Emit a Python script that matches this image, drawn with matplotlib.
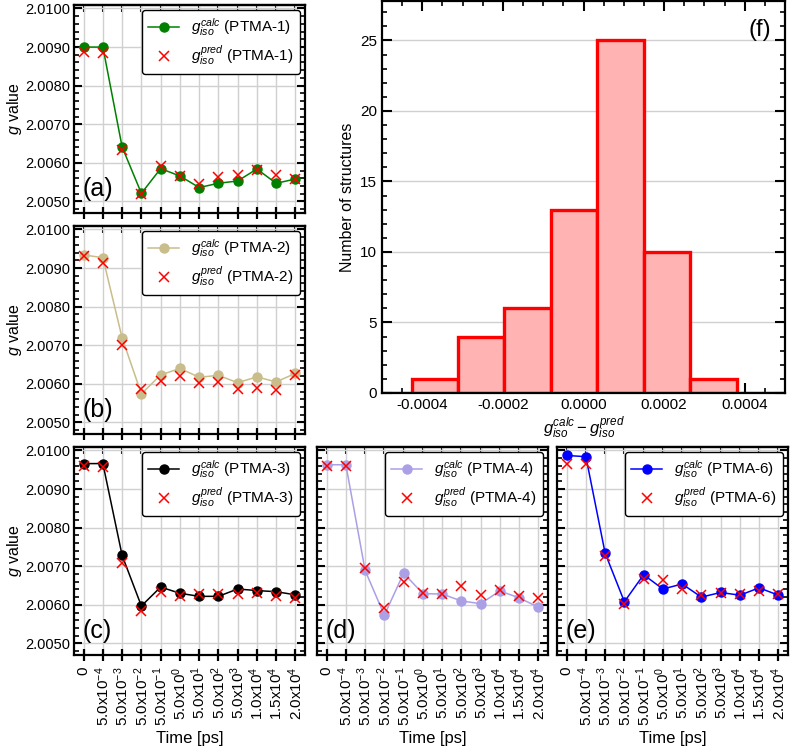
import matplotlib
matplotlib.use("Agg")
import matplotlib.pyplot as plt
from matplotlib.ticker import MultipleLocator, FormatStrFormatter
import numpy as np

plt.rcParams['font.family'] = ['Liberation Sans', 'DejaVu Sans']
plt.rcParams['mathtext.fontset'] = 'custom'
plt.rcParams['mathtext.rm'] = 'Liberation Sans'
plt.rcParams['mathtext.it'] = 'Liberation Sans:italic'
plt.rcParams['mathtext.bf'] = 'Liberation Sans:bold'

# ---------------- data ----------------
time_labels = ["0", r"5.0x10$^{-4}$", r"5.0x10$^{-3}$", r"5.0x10$^{-2}$", r"5.0x10$^{-1}$",
               r"5.0x10$^{0}$", r"5.0x10$^{1}$", r"5.0x10$^{2}$", r"5.0x10$^{3}$",
               r"1.0x10$^{4}$", r"1.5x10$^{4}$", r"2.0x10$^{4}$"]

calc_ptma1 = [2.00900, 2.00900, 2.00641, 2.00521, 2.00585, 2.00566, 2.00536, 2.00547, 2.00553, 2.00584, 2.00547, 2.00558]
pred_ptma1 = [2.00888, 2.00885, 2.00632, 2.00519, 2.00591, 2.00566, 2.00545, 2.00562, 2.00568, 2.00581, 2.00568, 2.00558]

calc_ptma2 = [2.00934, 2.00927, 2.00719, 2.00574, 2.00623, 2.00640, 2.00617, 2.00622, 2.00603, 2.00618, 2.00605, 2.00627]
pred_ptma2 = [2.00930, 2.00913, 2.00700, 2.00587, 2.00607, 2.00620, 2.00603, 2.00604, 2.00587, 2.00590, 2.00583, 2.00622]

calc_ptma3 = [2.00966, 2.00966, 2.00728, 2.00597, 2.00646, 2.00630, 2.00622, 2.00622, 2.00641, 2.00637, 2.00634, 2.00626]
pred_ptma3 = [2.00959, 2.00956, 2.00709, 2.00585, 2.00633, 2.00623, 2.00628, 2.00628, 2.00628, 2.00630, 2.00622, 2.00617]

calc_ptma4 = [2.00963, 2.00963, 2.00689, 2.00573, 2.00682, 2.00629, 2.00628, 2.00610, 2.00603, 2.00636, 2.00618, 2.00594]
pred_ptma4 = [2.00959, 2.00959, 2.00696, 2.00592, 2.00659, 2.00631, 2.00629, 2.00648, 2.00625, 2.00638, 2.00622, 2.00619]

calc_ptma6 = [2.00987, 2.00984, 2.00734, 2.00608, 2.00678, 2.00641, 2.00654, 2.00620, 2.00632, 2.00625, 2.00644, 2.00625]
pred_ptma6 = [2.00965, 2.00965, 2.00727, 2.00603, 2.00666, 2.00664, 2.00642, 2.00625, 2.00631, 2.00628, 2.00635, 2.00627]

hist_edges = [-0.000541, -0.0004259, -0.0003108, -0.0001965, -0.0000814, 0.0000337,
              0.0001496, 0.0002647, 0.0003798, 0.000495]
hist_counts = [0, 1, 4, 6, 13, 25, 10, 1, 0]

# ---------------- layout ----------------
W, H = 792, 751
fig = plt.figure(figsize=(W / 100, H / 100), dpi=100)


def ax_px(l, t, r, b):
    return fig.add_axes([l / W, 1 - b / H, (r - l) / W, (b - t) / H])


panels = [
    (ax_px(74, 5, 305, 213), calc_ptma1, pred_ptma1, '#008000', 'PTMA-1', '(a)', True, False),
    (ax_px(74, 226, 305, 434), calc_ptma2, pred_ptma2, '#c9bd8b', 'PTMA-2', '(b)', True, False),
    (ax_px(74, 447, 305, 655), calc_ptma3, pred_ptma3, '#000000', 'PTMA-3', '(c)', True, True),
    (ax_px(317, 447, 548, 655), calc_ptma4, pred_ptma4, '#ab9fe6', 'PTMA-4', '(d)', False, True),
    (ax_px(557, 447, 788, 655), calc_ptma6, pred_ptma6, '#0000ff', 'PTMA-6', '(e)', False, True),
]

x = np.arange(len(time_labels))
for ax, calc, pred, col, name, tag, ylab, xlab in panels:
    ax.plot(x, calc, '-o', color=col, lw=1.1, ms=6.5,
            label=r'$g_{iso}^{calc}$ (' + name + ')', zorder=3)
    ax.plot(x, pred, 'x', color='red', ms=6.5, mew=1.1, ls='none',
            label=r'$g_{iso}^{pred}$ (' + name + ')', zorder=4)
    ax.set_xlim(-0.5, 11.5)
    ax.set_ylim(2.0047, 2.01009)
    ax.set_xticks(x)
    ax.yaxis.set_major_locator(MultipleLocator(0.001))
    ax.yaxis.set_minor_locator(MultipleLocator(0.0002))
    ax.yaxis.set_major_formatter(FormatStrFormatter('%.4f'))
    ax.grid(True, which='major', color='#d0d0d0', lw=1.0, zorder=0)
    ax.set_axisbelow(True)
    for s in ax.spines.values():
        s.set_linewidth(1.6)
    ax.tick_params(axis='x', which='major', direction='inout', length=9, width=1.6,
                   top=False, labelsize=11)
    ax.tick_params(axis='y', which='major', direction='in', length=6, width=1.5,
                   left=True, right=True, labelsize=10.5, pad=3)
    ax.tick_params(axis='y', which='minor', direction='in', length=3.5, width=1.2,
                   left=True, right=True)
    sec = ax.secondary_xaxis('top')
    sec.set_xticks(x)
    sec.tick_params(direction='in', length=5, width=1.5, labeltop=False)
    sec.spines['top'].set_linewidth(1.6)
    if xlab:
        ax.set_xticklabels(time_labels, rotation=90)
        ax.set_xlabel('Time [ps]', fontsize=12)
    else:
        ax.set_xticklabels([])
    if ylab:
        ax.set_ylabel(r'$g$ value', fontsize=11.5)
        ax.yaxis.set_label_coords(-0.215, 0.5)
    else:
        ax.set_yticklabels([])
    leg = ax.legend(loc='upper right', fontsize=11, frameon=True, fancybox=True,
                    framealpha=1, edgecolor='black', borderaxespad=0.35,
                    handlelength=2.0, labelspacing=0.35)
    leg.get_frame().set_linewidth(1.0)
    ax.text(0.035, 0.06, tag, transform=ax.transAxes, fontsize=18,
            ha='left', va='bottom')

# ---------------- histogram ----------------
axh = ax_px(382, 1, 785, 393)
edges = np.array(hist_edges)
counts = np.array(hist_counts)
axh.bar(edges[:-1], counts, width=np.diff(edges), align='edge',
        color='#ffb3b3', edgecolor='red', linewidth=2.4, zorder=2)
axh.set_xlim(-0.0005, 0.0005)
axh.set_ylim(0, 27.8)
axh.xaxis.set_major_locator(MultipleLocator(0.0002))
axh.xaxis.set_minor_locator(MultipleLocator(0.00005))
axh.xaxis.set_major_formatter(FormatStrFormatter('%.4f'))
axh.yaxis.set_major_locator(MultipleLocator(5))
axh.yaxis.set_minor_locator(MultipleLocator(1))
axh.grid(True, axis='y', which='major', color='#d0d0d0', lw=1.0, zorder=0)
axh.set_axisbelow(True)
for s in axh.spines.values():
    s.set_linewidth(1.6)
axh.tick_params(which='major', direction='in', length=7, width=1.5,
                top=True, right=True, labelsize=11)
axh.tick_params(which='minor', direction='in', length=3.5, width=1.2,
                top=True, right=True)
axh.set_ylabel('Number of structures', fontsize=11.5)
axh.set_xlabel(r'$g_{iso}^{calc} - g_{iso}^{pred}$', fontsize=12, labelpad=2)
axh.text(0.965, 0.955, '(f)', transform=axh.transAxes, fontsize=17,
         ha='right', va='top')

fig.savefig('out.png', dpi=100)
